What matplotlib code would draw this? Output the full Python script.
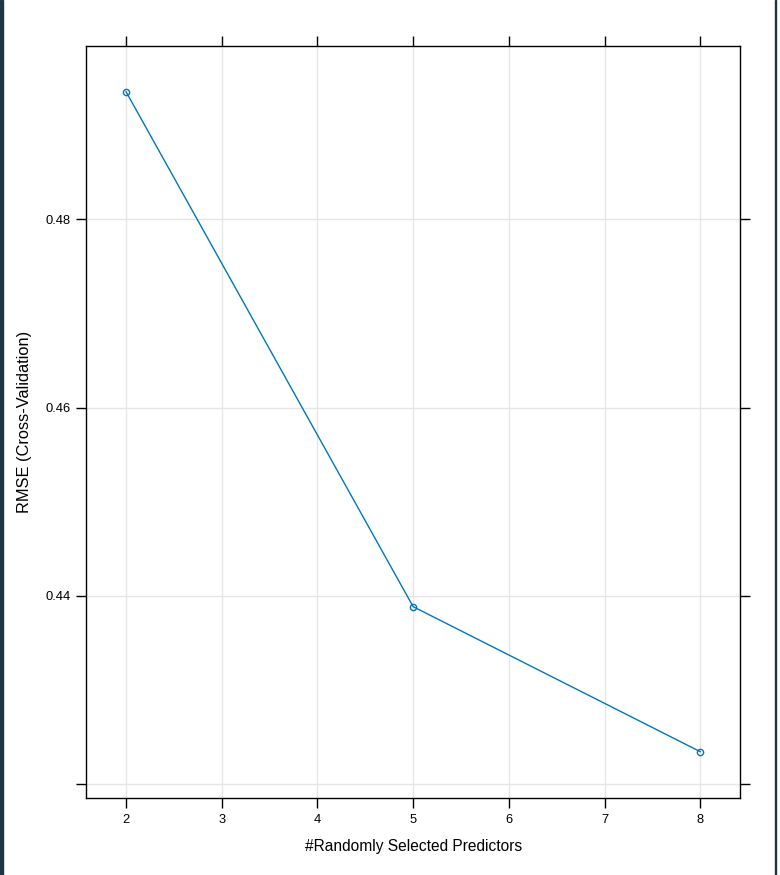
import matplotlib
matplotlib.use("Agg")
import matplotlib.pyplot as plt
from matplotlib.patches import Rectangle

plt.rcParams['font.family'] = ['Liberation Sans', 'DejaVu Sans']

predictors = [2, 5, 8]
rmse = [0.49355, 0.43886, 0.42346]
xticks = [2, 3, 4, 5, 6, 7, 8]
yticks = [0.42, 0.44, 0.46, 0.48]
ytick_labels = ["", "0.44", "0.46", "0.48"]

W, H = 780, 875
fig = plt.figure(figsize=(W / 100, H / 100), dpi=100)
ax = fig.add_axes([86.3 / W, 1 - 798.3 / H, (740.3 - 86.3) / W, (798.3 - 46.3) / H])

ax.set_xlim(1.585, 8.418)
ax.set_ylim(0.41851, 0.49837)

ax.grid(True, color='#e6e6e6', linewidth=1.0)
ax.set_axisbelow(True)

ax.plot(predictors, rmse, color='#0077BB', linewidth=1.0,
        marker='o', markersize=4.5, markerfacecolor='none',
        markeredgecolor='#0077BB', markeredgewidth=1.0)

ax.set_xticks(xticks)
ax.set_xticklabels([str(v) for v in xticks])
ax.set_yticks(yticks)
ax.set_yticklabels(ytick_labels)

ax.tick_params(axis='both', direction='out', length=7, width=1.0, labelsize=9.3,
               top=True, right=True, labeltop=False, labelright=False, pad=4)
for s in ax.spines.values():
    s.set_linewidth(1.0)
    s.set_color('black')

ax.set_xlabel("#Randomly Selected Predictors", fontsize=11.2, labelpad=10)
ax.set_ylabel("RMSE (Cross-Validation)", fontsize=11.8, labelpad=10)

# window border lines
fig.patches.append(Rectangle((0, 0), 2.5 / W, 1, transform=fig.transFigure,
                             color='#1f3447', zorder=10))
fig.patches.append(Rectangle((775 / W, 0), 1.2 / W, 1, transform=fig.transFigure,
                             color='#1f3447', zorder=10))

fig.savefig("out.png", dpi=100)
